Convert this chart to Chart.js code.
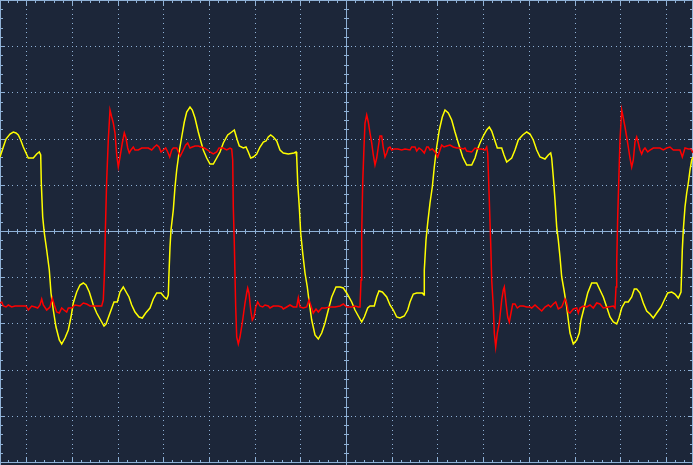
<!DOCTYPE html>
<html>
<head>
<meta charset="utf-8">
<script src="https://cdn.jsdelivr.net/npm/chart.js@4"></script>
<style>
  html, body { margin: 0; padding: 0; background: #1c2639; }
  canvas { display: block; }
</style>
</head>
<body>
<canvas id="scope" width="693" height="465"></canvas>
<script>
// record: sample index (0..693), trigger at sample 346; level in ADC counts (46.2 counts / div)
const ch1Time = [0, 3.3, 6, 10, 13.3, 16, 18.3, 20.7, 23.3, 26, 28.3, 33.3, 36.7, 39.3, 40.7, 41.3, 42.7, 44.3, 46.7, 49.3,
  51, 53.3, 56, 59.3, 61.7, 65, 68.3, 71, 73.3, 76.7, 80, 83.3, 86, 89.3, 93.3, 96.7, 100, 104, 106, 110,
  114, 117.3, 120, 123.3, 126.7, 129, 131.7, 135, 139, 142.3, 145.7, 150, 153.3, 156.7, 161, 164.3, 166.7, 168.3, 169, 170,
  171, 173.3, 175, 176.7, 179, 181.7, 184.3, 186.7, 190, 192.3, 195, 198.3, 201, 203.3, 206.7, 210, 213.3, 216.7, 220, 223.3,
  227.7, 231.7, 234.3, 237.3, 239.3, 243.3, 246, 248.3, 250.7, 253.3, 256.7, 260, 263.3, 266, 268.3, 270.7, 273.3, 276.7, 280, 283.3,
  288.3, 294, 296, 296.7, 297.7, 299.3, 300.7, 302.7, 305, 307.3, 309.3, 311.7, 315, 318.3, 321.7, 325, 328.3, 331.7, 336, 340,
  343.3, 346.7, 351.7, 355, 358.3, 361.7, 364.3, 367.7, 370, 374.3, 376.7, 379, 382.3, 386.7, 390, 393.3, 396.7, 400, 404.3, 407.7,
  410, 413.3, 416.7, 422.3, 424, 424.3, 426, 427.7, 430, 432.3, 434.3, 436.7, 439.3, 442.3, 445, 448.3, 451.7, 455, 458.3, 462.7,
  466.7, 471.7, 475, 477.3, 480, 483.3, 486.7, 489.3, 491.7, 494, 497.3, 501.7, 504, 506.7, 511.7, 515, 518.3, 522.7, 526.7, 530,
  533.3, 536.7, 540, 545, 548.3, 550.7, 551.7, 553.3, 555, 556.7, 558.3, 560, 561.7, 564, 566.7, 568.3, 570, 573.3, 576.7, 579.3,
  581, 584.3, 587.7, 591.7, 596.7, 600, 603.3, 606.7, 610, 613.3, 616.7, 619, 621.7, 625, 628.3, 631.7, 634.3, 636.7, 640, 643.3,
  646.7, 650, 653.3, 656.7, 661, 664.3, 667.7, 671.7, 675, 678.3, 681, 682.3, 683.3, 685, 686.7, 688.3, 690, 691.7, 693];
const ch1Level = [74, 84, 92, 97, 99, 98, 96, 91, 84, 78, 73, 73, 77, 79, 76, 48, 14, -2, -19, -39,
  -62, -79, -96, -109, -113, -107, -99, -86, -72, -61, -54, -52, -54, -61, -74, -82, -88, -95, -93, -82,
  -71, -71, -61, -56, -62, -66, -74, -81, -86, -87, -82, -77, -68, -62, -62, -66, -68, -64, -42, -16,
  1, 21, 44, 61, 78, 94, 109, 119, 124, 121, 113, 99, 89, 81, 73, 67, 67, 73, 79, 88,
  96, 99, 101, 91, 85, 83, 84, 79, 73, 74, 77, 84, 89, 90, 94, 96, 94, 90, 81, 78,
  77, 78, 79, 74, 48, 24, -2, -22, -42, -56, -72, -89, -104, -108, -102, -92, -79, -66, -56, -56,
  -57, -62, -71, -79, -85, -91, -86, -77, -75, -75, -66, -60, -61, -66, -74, -79, -86, -87, -85, -79,
  -71, -63, -62, -62, -64, -39, -9, 8, 28, 44, 64, 84, 101, 114, 121, 118, 111, 99, 88, 74,
  66, 66, 73, 81, 88, 95, 101, 104, 100, 93, 83, 83, 76, 69, 73, 81, 91, 96, 99, 97,
  91, 81, 74, 72, 76, 78, 73, 54, 31, 4, -9, -26, -46, -59, -76, -89, -102, -113, -109, -102,
  -89, -76, -62, -52, -52, -59, -66, -76, -86, -91, -93, -87, -77, -71, -71, -66, -58, -58, -62, -72,
  -80, -83, -87, -82, -76, -69, -62, -61, -63, -67, -61, -19, 1, 24, 38, 48, 61, 71, 74];

const ch2Time = [0, 1.7, 3.3, 6, 8.3, 11.7, 15, 20, 26, 28.3, 31.7, 35, 37.7, 40, 41.7, 43.3, 46.7, 50, 52.3, 54.3,
  56.7, 59.3, 61.7, 64, 66.7, 68.3, 71.7, 75, 80, 83.3, 86.7, 90, 96.7, 101.7, 103.3, 104.3, 105.3, 106.7, 108.3, 110,
  111.7, 113.3, 115, 116.7, 118.3, 120, 122.3, 124.3, 126, 127.7, 129.3, 131, 133.3, 135, 138.3, 141.7, 148.3, 151.7, 154.3, 156.7,
  159, 161, 163.3, 165.7, 167.7, 169.7, 171.7, 173.3, 176.7, 178.3, 180.3, 183.3, 185.7, 187.7, 190, 192.3, 195, 198.3, 201, 204.3,
  207.7, 210, 213.3, 216.7, 219, 223.3, 226.7, 230, 231.7, 232.7, 233.3, 234.3, 235.7, 236.7, 238.3, 240, 242.7, 245, 246.7, 247.7,
  249, 250.7, 252.3, 254, 255.7, 257.7, 260, 262.7, 265, 268.3, 270, 273.3, 278.3, 281.7, 283.3, 286.7, 290, 293.3, 296.7, 298.3,
  300, 303.3, 306.7, 309, 311, 313.3, 316, 318.3, 321.7, 325, 330, 335, 340, 343.3, 346.7, 351.7, 355, 358.3, 360, 361,
  361.7, 362.7, 364, 365, 366.7, 368.3, 370, 371.7, 373.3, 375, 376.7, 378.3, 380, 381.7, 383.3, 385, 386.7, 388.3, 390, 391.7,
  394.3, 397.7, 401.7, 405, 410, 411.7, 415, 416.7, 419, 421.7, 424.3, 426.7, 428.3, 430, 432.3, 435, 437.7, 440, 441.7, 444,
  446.7, 450, 453.3, 456.7, 460, 463.3, 465, 466.7, 471.7, 475, 478.3, 481.7, 485, 486.7, 487.7, 489.3, 490.7, 491.7, 493.3, 494.3,
  495.7, 497.3, 499.3, 501.7, 503.3, 504.3, 506, 507.7, 509.3, 511, 512.7, 515, 517.3, 520, 523.3, 526.7, 530, 531.7, 535, 538.3,
  541.7, 545, 548.3, 550.7, 553.3, 555.7, 558.3, 561.7, 565, 566.7, 568.3, 570, 573.3, 576.7, 578.3, 580, 583.3, 586.7, 590, 593.3,
  596.7, 600, 603.3, 608.3, 613.3, 615, 616, 616.7, 617.7, 618.7, 620, 621.7, 623.3, 625, 626.7, 628.3, 630, 631.7, 633.3, 635,
  636.7, 638.3, 640, 641.7, 643.3, 645, 647.7, 650, 653.3, 660, 663.3, 666.7, 670, 673.3, 676.7, 680, 682.3, 685, 688.3, 691, 693];
const ch2Level = [-72, -71, -75, -76, -74, -76, -75, -75, -75, -79, -75, -76, -77, -74, -68, -74, -79, -76, -67, -74,
  -81, -82, -77, -79, -81, -77, -77, -74, -75, -72, -73, -75, -75, -75, -69, -46, -2, 51, 91, 121,
  114, 108, 98, 76, 64, 74, 88, 98, 93, 83, 78, 81, 84, 81, 81, 83, 83, 81, 84, 86,
  84, 79, 81, 83, 79, 74, 81, 83, 83, 79, 75, 81, 86, 88, 83, 84, 85, 85, 84, 83,
  81, 79, 77, 79, 83, 83, 81, 83, 82, 71, 24, -12, -76, -106, -113, -106, -89, -72, -62, -57,
  -62, -79, -89, -86, -76, -71, -75, -76, -74, -75, -77, -75, -75, -76, -78, -76, -74, -76, -76, -67,
  -76, -77, -76, -69, -75, -82, -78, -81, -77, -77, -76, -76, -75, -73, -76, -76, -75, -76, -76, -49,
  -2, 48, 84, 108, 116, 109, 98, 88, 76, 66, 73, 84, 95, 95, 83, 74, 78, 83, 84, 81,
  82, 82, 81, 82, 81, 84, 84, 80, 83, 81, 78, 84, 84, 81, 82, 79, 74, 81, 86, 84,
  85, 86, 84, 83, 83, 82, 83, 80, 79, 83, 82, 82, 81, 84, 78, 31, -12, -49, -76, -102,
  -116, -102, -92, -69, -59, -56, -72, -86, -91, -82, -73, -73, -77, -75, -75, -76, -76, -77, -74, -77,
  -80, -76, -74, -76, -73, -71, -78, -76, -68, -72, -81, -82, -78, -77, -82, -77, -75, -76, -74, -77,
  -72, -73, -77, -76, -75, -77, -56, -32, 14, 48, 91, 121, 113, 104, 94, 84, 73, 64, 71, 89,
  94, 88, 81, 77, 81, 83, 79, 81, 83, 83, 81, 83, 84, 81, 81, 81, 74, 83, 82, 82, 78];

// graticule
const xDivisions = [-7, -6, -5, -4, -3, -2, -1, 0, 1, 2, 3, 4, 5, 6, 7];
const yDivisions = [-5, -4, -3, -2, -1, 0, 1, 2, 3, 4, 5];
const TRIGGER = 346;      // sample at screen centre
const X_DIV = 45.7;       // samples per division
const Y_DIV = 46.2;       // counts per division

const BG = '#1c2639';
const GRID = '#8fb1d6';

function pts(t, v) {
  return t.map((x, i) => ({ x: x, y: v[i] }));
}

const graticule = {
  id: 'graticule',
  beforeDraw(chart) {
    const { ctx, scales: { x, y } } = chart;
    const W = chart.width, H = chart.height;
    const px = v => Math.round(x.getPixelForValue(TRIGGER + v * X_DIV));
    const py = v => Math.round(y.getPixelForValue(v * Y_DIV));
    const xc = px(0), yc = py(0);
    const yTop = py(5), yBot = py(-5);

    ctx.save();
    ctx.fillStyle = BG;
    ctx.fillRect(0, 0, W, H);
    ctx.fillStyle = GRID;

    // dotted major lines (10 dots per division)
    xDivisions.forEach(d => {
      if (d === 0) return;
      const gx = px(d);
      for (let s = -50; s <= 51; s++) {
        const gy = py(s / 10);
        if (gy >= 0 && gy < H) ctx.fillRect(gx, gy, 1, 1);
      }
    });
    yDivisions.forEach(d => {
      if (d === 0) return;
      const gy = py(d);
      for (let s = -80; s <= 80; s++) {
        const gx = px(s / 10);
        if (gx >= 0 && gx < W) ctx.fillRect(gx, gy, 1, 1);
      }
    });

    // centre axes, frame
    ctx.fillRect(xc, 0, 1, H);
    ctx.fillRect(0, yc, W, 1);
    ctx.fillRect(0, yTop, W, 1);
    ctx.fillRect(0, yBot, W, 1);
    ctx.fillRect(0, 0, 1, H);
    ctx.fillRect(W - 1, 0, 1, H);

    // minor ticks every 1/5 division
    for (let s = -40; s <= 40; s++) {
      const gx = px(s / 5);
      if (gx < 0 || gx >= W) continue;
      const major = s % 5 === 0;
      ctx.fillRect(gx, yc - 2, 1, 5);
      ctx.fillRect(gx, yTop, 1, major ? 5 : 3);
      ctx.fillRect(gx, yBot - (major ? 4 : 2), 1, major ? 5 : 3);
    }
    for (let s = -26; s <= 26; s++) {
      const gy = py(s / 5);
      if (gy < 0 || gy >= H) continue;
      const major = s % 5 === 0;
      ctx.fillRect(xc - 2, gy, 5, 1);
      ctx.fillRect(0, gy, major ? 5 : 3, 1);
      ctx.fillRect(W - (major ? 5 : 3), gy, major ? 5 : 3, 1);
    }
    ctx.restore();
  }
};

new Chart(document.getElementById('scope'), {
  type: 'line',
  data: {
    datasets: [
      {
        label: 'CH2',
        data: pts(ch2Time, ch2Level),
        borderColor: '#ff0000',
        borderWidth: 1.5,
        pointRadius: 0,
        tension: 0
      },
      {
        label: 'CH1',
        data: pts(ch1Time, ch1Level),
        borderColor: '#ffff00',
        borderWidth: 1.5,
        pointRadius: 0,
        tension: 0
      }
    ]
  },
  options: {
    responsive: false,
    animation: false,
    events: [],
    layout: { padding: 0 },
    plugins: { legend: { display: false }, tooltip: { enabled: false } },
    scales: {
      x: { type: 'linear', min: 0, max: 693, display: false },
      y: { type: 'linear', min: -234, max: 231, display: false }
    }
  },
  plugins: [graticule]
});
</script>
</body>
</html>
